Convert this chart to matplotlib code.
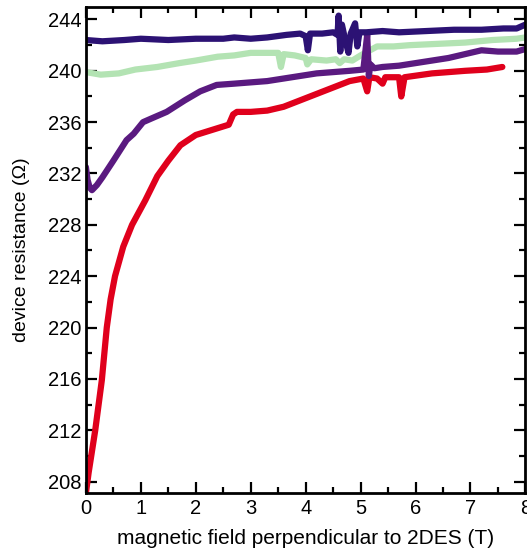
import numpy as np
import matplotlib
matplotlib.use("Agg")
from matplotlib import pyplot as plt
from matplotlib.ticker import MultipleLocator

plt.rcParams['font.family'] = ['Liberation Sans', 'DejaVu Sans']

# field (T) and resistance (ohm)
b_navy = [0, 0.3, 0.7, 1.0, 1.5, 2.0, 2.5, 2.7, 3.0, 3.3, 3.65, 3.9, 4.0, 4.04, 4.08, 4.3, 4.5,
          4.58, 4.6, 4.63, 4.66, 4.72, 4.78, 4.82, 4.9, 4.94, 4.98, 5.1, 5.4, 5.7, 6.2, 6.7, 7.2, 7.6, 7.84, 8.0]
r_navy = [242.4, 242.3, 242.4, 242.5, 242.4, 242.5, 242.5, 242.6, 242.5, 242.6, 242.8, 242.9, 242.7, 241.6, 242.9, 242.9, 243.0,
          242.8, 244.3, 241.5, 243.6, 242.4, 241.4, 242.9, 243.7, 241.9, 243.0, 243.0, 243.1, 243.0, 243.1, 243.2, 243.2, 243.3, 243.3, 243.6]

b_green = [0, 0.27, 0.6, 0.9, 1.3, 1.7, 2.0, 2.4, 2.7, 3.0, 3.3, 3.5, 3.55, 3.6, 3.8, 4.0, 4.03, 4.1,
           4.38, 4.55, 4.62, 4.7, 4.85, 5.0, 5.3, 5.6, 5.9, 6.4, 6.9, 7.4, 7.84, 8.0]
r_green = [239.9, 239.7, 239.8, 240.1, 240.3, 240.6, 240.8, 241.1, 241.2, 241.4, 241.4, 241.4, 240.3, 241.3, 241.2, 241.0, 240.5, 240.9,
           240.8, 240.9, 240.6, 240.9, 240.8, 241.2, 241.9, 241.9, 242.0, 242.1, 242.2, 242.4, 242.5, 242.6]

b_purple = [0, 0.03, 0.07, 0.11, 0.2, 0.3, 0.5, 0.74, 0.87, 1.04, 1.2, 1.47, 1.8, 2.08, 2.38, 2.7, 3.0, 3.3, 3.6,
            4.2, 4.8, 5.05, 5.12, 5.15, 5.18, 5.25, 5.4, 5.7, 6.0, 6.3, 6.6, 6.9, 7.2, 7.5, 7.84, 8.0]
r_purple = [232.5, 231.5, 230.9, 230.7, 231.1, 231.7, 233.0, 234.6, 235.1, 236.0, 236.3, 236.8, 237.7, 238.4, 238.9, 239.0, 239.1, 239.2, 239.4,
            239.8, 240.0, 240.1, 242.8, 239.6, 240.5, 240.2, 240.3, 240.4, 240.6, 240.8, 241.0, 241.3, 241.6, 241.5, 241.5, 241.7]

b_red = [0, 0.05, 0.17, 0.29, 0.38, 0.45, 0.53, 0.68, 0.84, 1.08, 1.3, 1.5, 1.72, 2.0, 2.3, 2.6, 2.68, 2.75,
         3.0, 3.3, 3.6, 3.9, 4.2, 4.5, 4.8, 5.05, 5.12, 5.16, 5.3, 5.4, 5.45, 5.6, 5.7, 5.74, 5.8, 6.3, 6.9, 7.3, 7.58]
r_red = [207.1, 208.7, 212.0, 215.9, 220.0, 222.2, 224.0, 226.3, 228.0, 229.9, 231.8, 233.0, 234.2, 235.0, 235.4, 235.8, 236.6, 236.8,
         236.8, 236.9, 237.2, 237.7, 238.2, 238.7, 239.2, 239.4, 238.4, 239.5, 239.4, 239.0, 239.5, 239.5, 239.5, 238.0, 239.5, 239.8, 240.0, 240.1, 240.3]

fig = plt.figure(figsize=(5.27, 5.54), dpi=100)
ax = fig.add_axes([0.163, 0.110, 0.834, 0.878])

lw = 4.5
ax.plot(b_green, r_green, color='#b3e3b3', lw=lw, solid_capstyle='round', solid_joinstyle='round')
ax.plot(b_red, r_red, color='#e0001c', lw=lw, solid_capstyle='round', solid_joinstyle='round')
ax.plot(b_purple, r_purple, color='#5a1a80', lw=lw, solid_capstyle='round', solid_joinstyle='round')
ax.plot(b_navy, r_navy, color='#2c1274', lw=lw, solid_capstyle='round', solid_joinstyle='round')

ax.set_xlim(0, 8)
ax.set_ylim(207.1, 245.0)
ax.xaxis.set_major_locator(MultipleLocator(1))
ax.xaxis.set_minor_locator(MultipleLocator(0.5))
ax.yaxis.set_major_locator(MultipleLocator(4))
ax.yaxis.set_minor_locator(MultipleLocator(2))
ax.tick_params(which='both', direction='in', top=True, right=True, width=1.6, labelsize=14.5)
ax.tick_params(axis='y', pad=3)
ax.tick_params(axis='x', pad=4)
ax.tick_params(which='major', length=8)
ax.tick_params(which='minor', length=4.5)
for s in ax.spines.values():
    s.set_linewidth(2)

ax.set_xlabel('magnetic field perpendicular to 2DES (T)', fontsize=15, labelpad=8)
ax.set_ylabel('device resistance (\u03a9)', fontsize=14, labelpad=13)

fig.savefig('out.png', dpi=100)
